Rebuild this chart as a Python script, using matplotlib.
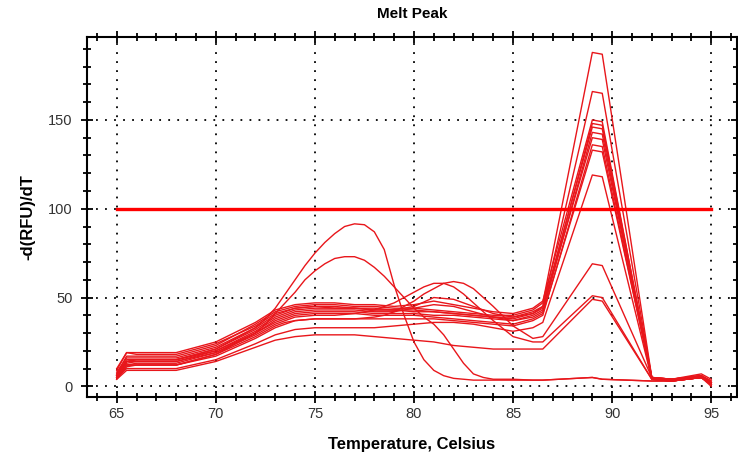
import matplotlib
matplotlib.use("Agg")
import matplotlib.pyplot as plt
from matplotlib.ticker import MultipleLocator

plt.rcParams['font.family'] = ['Liberation Sans Narrow', 'Liberation Sans', 'DejaVu Sans']

# temperature points (Celsius) for the wells with a single late peak
temps = [65, 65.5, 66, 68, 70, 72, 73, 74, 75, 76, 77, 78, 79, 80, 81, 82, 83, 84, 85,
         86, 86.5, 89, 89.5, 92, 93, 94.5, 95]

# finer temperature points for the wells with an early peak / bump
temps_fine = [65, 65.5, 66, 68, 70,
              72, 72.5, 73, 73.5, 74, 74.5, 75, 75.5, 76, 76.5, 77, 77.5, 78, 78.5,
              79, 79.5, 80, 80.5, 81, 81.5, 82, 82.5, 83, 83.5, 84,
              85, 86, 86.5, 89, 89.5, 92, 93, 94.5, 95]

# -d(RFU)/dT for each well
well_a = [7, 17, 17, 17, 23, 35, 42, 45, 46, 46, 45, 45, 44, 44, 43, 42, 41, 40, 40, 43, 47, 188, 187, 5, 4, 6, 2]
well_b = [6, 14, 15, 15, 21, 32, 39, 43, 44, 44, 44, 43, 43, 42, 42, 41, 40, 39, 39, 42, 45, 166, 165, 5, 4, 6, 3]
well_c = [9, 19, 19, 19, 25, 36, 43, 46, 47, 47, 46, 46, 45, 46, 48, 46, 44, 42, 41, 44, 48, 150, 149, 4, 4, 5, 1]
well_d = [5, 12, 13, 13, 19, 30, 37, 41, 42, 42, 42, 41, 41, 41, 40, 40, 39, 38, 37, 40, 43, 148, 147, 5, 3, 5, 2]
well_e = [8, 16, 16, 16, 22, 33, 40, 44, 45, 45, 44, 44, 43, 43, 42, 41, 40, 39, 38, 41, 45, 146, 145, 4, 4, 6, 3]
well_f = [6, 13, 14, 14, 20, 31, 38, 42, 43, 43, 43, 42, 42, 44, 46, 45, 42, 39, 37, 39, 42, 143, 142, 5, 4, 5, 0]
well_g = [10, 19, 18, 18, 24, 34, 41, 44, 45, 44, 44, 43, 43, 45, 50, 49, 45, 41, 39, 41, 44, 140, 139, 5, 4, 7, 4]
well_h = [4, 11, 12, 12, 17, 27, 33, 37, 38, 38, 38, 38, 38, 38, 38, 37, 36, 35, 34, 37, 40, 136, 135, 4, 3, 5, 1]
well_i = [7, 15, 15, 15, 20, 30, 36, 40, 41, 41, 41, 40, 40, 40, 39, 38, 37, 36, 35, 38, 41, 133, 132, 5, 4, 6, 2]
well_j = [5, 10, 10, 10, 15, 24, 29, 32, 33, 33, 33, 33, 34, 35, 36, 36, 35, 33, 31, 33, 36, 119, 118, 4, 3, 5, 1]
well_m = [4, 9, 9, 9, 14, 22, 26, 28, 29, 29, 29, 28, 27, 26, 25, 23, 22, 21, 21, 21, 21, 49, 48, 4, 3, 5, 1]

# wells on the fine temperature points
well_k = [5, 12, 12, 12, 18,
          28, 31, 34, 36, 37, 37.5, 38, 38, 38, 38, 38, 38.5, 39, 40,
          42, 45, 48, 52, 55, 58, 59, 58, 55, 50, 45,
          34, 27, 28, 69, 68, 5, 3, 5, 2]
well_l = [6, 14, 14, 14, 19,
          29, 32, 35, 37, 39, 39.5, 40, 40, 40, 40.5, 41, 42, 43, 45,
          47, 50, 53, 56, 58, 58, 56, 52, 47, 42, 37,
          28, 25, 25, 51, 50, 4, 3, 5, 2]
well_n = [6, 14, 15, 15, 21,
          33, 38, 44, 52, 60, 68, 75, 81, 86, 90, 91.5, 91, 87, 77,
          57, 40, 25, 15, 9, 6, 4.5, 4, 3.5, 3.5, 3.5,
          3.5, 3.5, 3.5, 5, 4, 3, 3, 5, 1]
well_o = [5, 12, 12, 12, 18,
          30, 35, 41, 47, 53, 60, 65, 69, 72, 73, 73, 71, 67, 62,
          56, 50, 44, 39, 35, 29, 21, 13, 7, 5, 4,
          4, 3.5, 3.5, 5, 4, 3, 3, 5, 2]

wells = [well_a, well_b, well_c, well_d, well_e, well_f, well_g, well_h,
         well_i, well_j, well_m]
wells_fine = [well_k, well_l, well_n, well_o]

threshold = 100

fig = plt.figure(figsize=(7.38, 4.62), dpi=100)
ax = fig.add_axes([87 / 738, 1 - 397 / 462, 650 / 738, 360 / 462])

for w in wells:
    ax.plot(temps, w, color='#e8161b', lw=1.0, zorder=3)
for w in wells_fine:
    ax.plot(temps_fine, w, color='#e8161b', lw=1.0, zorder=3)

ax.plot([temps[0], temps[-1]], [threshold, threshold], color='#ff0000', lw=2.4, zorder=4)

ax.set_xlim(63.5, 96.3)
ax.set_ylim(-6, 196.7)

ax.xaxis.set_major_locator(MultipleLocator(5))
ax.xaxis.set_minor_locator(MultipleLocator(1))
ax.yaxis.set_major_locator(MultipleLocator(50))
ax.yaxis.set_minor_locator(MultipleLocator(10))

ax.grid(True, which='major', color='black', linestyle=(0, (1, 4)), linewidth=1.3, zorder=1)

for s in ax.spines.values():
    s.set_linewidth(1.5)

ax.tick_params(which='major', direction='inout', length=9, width=1.3,
               labelsize=10.5, labelcolor='#333333', top=True, right=True)
ax.tick_params(which='minor', direction='inout', length=6, width=1.3, top=True, right=True)
ax.tick_params(axis='x', which='both', pad=3)
ax.tick_params(axis='y', which='both', pad=6)

ax.set_title('Melt Peak', fontsize=11, fontweight='bold', pad=14)
ax.set_xlabel('Temperature, Celsius', fontsize=12, fontweight='bold', labelpad=11)
ax.set_ylabel('-d(RFU)/dT', fontsize=12, fontweight='bold', labelpad=9)

fig.savefig('out.png', dpi=100)
